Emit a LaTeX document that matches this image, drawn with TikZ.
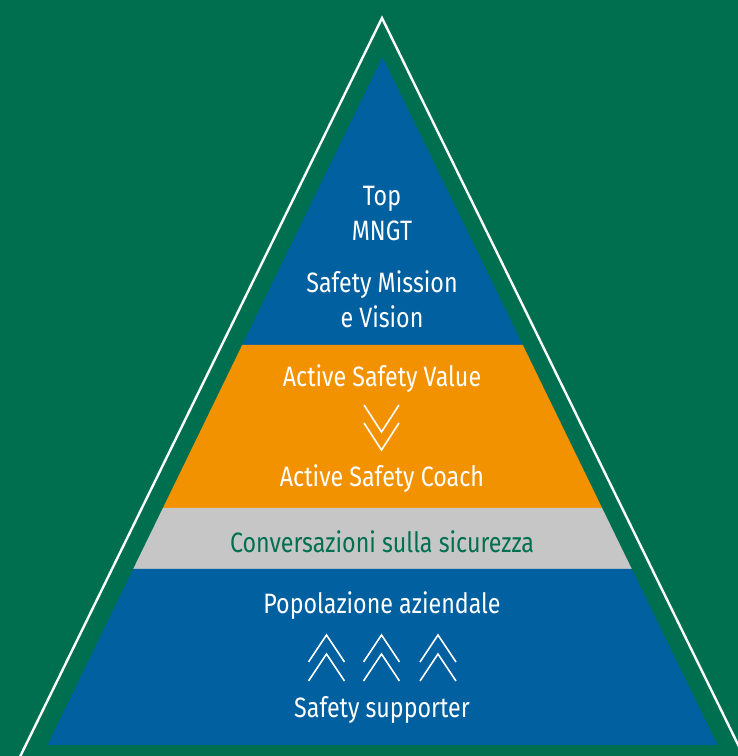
\documentclass[tikz,border=0pt]{standalone}
\usepackage{fontspec}
\setmainfont{Fira Sans}[FakeStretch=0.83]
\definecolor{bggreen}{HTML}{006F50}
\definecolor{lblue}{HTML}{0060A0}
\definecolor{lorange}{HTML}{F39200}
\definecolor{lgray}{HTML}{C6C6C6}
\begin{document}
\begin{tikzpicture}[x=1pt,y=1pt,
  lbl/.style={text=white,font=\fontsize{28}{32}\selectfont,inner sep=0pt,align=center},
  lblg/.style={lbl,text=bggreen},
  chev/.style={draw=white,line width=1.6pt,line cap=butt,line join=miter}]
\fill[bggreen] (0,0) rectangle (738,756);
\useasboundingbox (0,0) rectangle (738,756);
\begin{scope}
\clip (0,0) rectangle (738,756);
% outer white triangle
\coordinate (oa) at (382,738);
\coordinate (ol) at (15.5,-10);
\coordinate (or) at (748.5,-10);
\draw[white,line width=2.4pt] (ol) -- (oa) -- (or);
% layers
\fill[lblue] (382.5,699) -- (522.8,411) -- (242.2,411) -- cycle;
\fill[lorange] (242.2,411) -- (522.8,411) -- (602.1,248) -- (162.9,248) -- cycle;
\fill[lgray] (162.9,248) -- (602.1,248) -- (631.8,187) -- (133.2,187) -- cycle;
\fill[lblue] (133.2,187) -- (631.8,187) -- (717.5,11) -- (47.5,11) -- cycle;
\end{scope}
% texts
\node[lbl] (top) at (382,557) {Top};
\node[lbl] (mngt) at (382,525) {MNGT};
\node[lbl] (mission) at (382,471) {Safety Mission};
\node[lbl] (vision) at (382,439) {e Vision};
\node[lbl] (value) at (382,377) {Active Safety Value};
\node[lbl] (coach) at (382,277) {Active Safety Coach};
\node[lblg] (conv) at (382,214) {Conversazioni sulla sicurezza};
\node[lbl] (pop) at (382,150) {Popolazione aziendale};
\node[lbl] (supp) at (382,46) {Safety supporter};
% down chevrons
\draw[chev] (364,351) -- (381.5,324) -- (399,351);
\draw[chev] (364,333) -- (381.5,306) -- (399,333);
% up chevrons
\foreach \cx in {326.5,381.5,438} {
  \draw[chev] (\cx-18,94) -- (\cx,121) -- (\cx+18,94);
  \draw[chev] (\cx-18,75) -- (\cx,102) -- (\cx+18,75);
}
\end{tikzpicture}
\end{document}
